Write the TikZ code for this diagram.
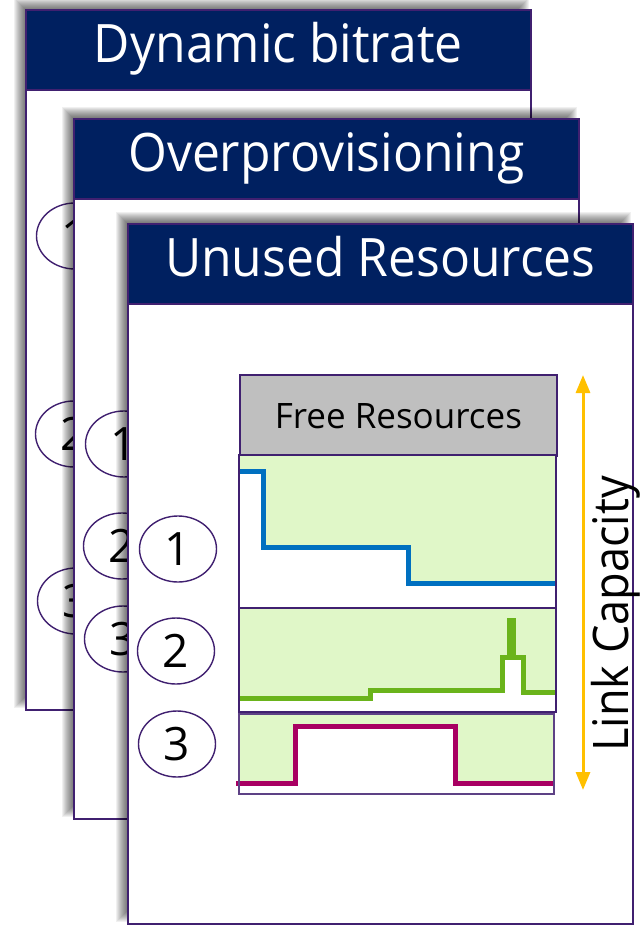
\documentclass[tikz,border=0pt]{standalone}
\usepackage{fontspec}
\setmainfont{Open Sans}
\newfontfamily\titlefont[FakeStretch=0.94]{Open Sans}
\newfontfamily\labelfont[FakeStretch=0.92]{Open Sans}
\usetikzlibrary{shapes.geometric,arrows.meta}

\definecolor{navy}{RGB}{0,32,96}
\definecolor{edge}{RGB}{64,32,112}
\definecolor{freegreen}{RGB}{224,247,200}
\definecolor{freegray}{RGB}{191,191,191}
\definecolor{lineblue}{RGB}{0,112,192}
\definecolor{linegreen}{RGB}{106,180,27}
\definecolor{linemag}{RGB}{168,0,98}
\definecolor{capyellow}{RGB}{255,192,0}

\tikzset{
  card/.style={draw=edge, line width=1.6pt, fill=white, anchor=north west,
    minimum width=505pt, minimum height=700pt, inner sep=0pt},
  cardhead/.style={draw=edge, line width=1.6pt, fill=navy, anchor=north west,
    minimum width=505pt, minimum height=80pt, inner sep=0pt, text=white,
    font=\titlefont\fontsize{53}{60}\selectfont, text height=40pt, text depth=14pt},
  numcircle/.style={ellipse, draw=edge, line width=1.4pt, fill=white,
    minimum width=77pt, minimum height=66pt, inner sep=0pt,
    font=\fontsize{46}{50}\selectfont, text height=33pt, text depth=0pt},
  panelbox/.style={draw=edge, line width=1.8pt},
  trace/.style={line width=5pt},
}

% soft shadow falling to the upper left of a card (card is 505 x 700)
\newcommand\cardshadow[2]{%
  \foreach \k in {1,...,11}{%
    \fill[black,opacity=0.06] ({#1-\k},{#2-\k}) rectangle ({#1+493+\k},{#2+688+\k});
  }%
}

\begin{document}
\begin{tikzpicture}[x=1pt,y=-1pt]
\useasboundingbox (0,0) rectangle (643,925);

% ---- back card: Dynamic bitrate
\cardshadow{25}{9}
\node[card] (cardA) at (25,9) {};
\node[cardhead] (headA) at (25,9) {Dynamic bitrate};
\node[numcircle] (a1) at (75,236) {1};
\node[numcircle] (a2) at (74,434) {2};
\node[numcircle] (a3) at (76,601) {3};

% ---- middle card: Overprovisioning
\cardshadow{73}{118}
\node[card] (cardB) at (73,118) {};
\node[cardhead] (headB) at (73,118) {Overprovisioning};
\node[numcircle] (b1) at (124,444) {1};
\node[numcircle] (b2) at (122,546) {2};
\node[numcircle] (b3) at (123,639) {3};

% ---- front card: Unused Resources
\cardshadow{127}{223}
\node[card] (cardC) at (127,223) {};
\node[cardhead] (headC) at (127,223) {Unused Resources};

\node[numcircle] (c1) at (178,549) {1};
\node[numcircle] (c2) at (176,651) {2};
\node[numcircle] (c3) at (177,744) {3};

% free resources header
\node[draw=edge, line width=1.8pt, fill=freegray, anchor=north west,
  minimum width=317pt, minimum height=81pt, inner sep=0pt,
  font=\fontsize{35}{40}\selectfont, text height=27pt, text depth=0pt]
  (free) at (239,374) {Free Resources};

% panel 1: blue trace
\fill[freegreen] (239,455) rectangle (556,608);
\fill[white] (239,471) -- (263,471) -- (263,547) -- (408,547) -- (408,583)
  -- (556,583) -- (556,608) -- (239,608) -- cycle;
\draw[trace, lineblue] (239,471) -- (263,471) -- (263,547) -- (408,547)
  -- (408,583) -- (556,583);
\draw[panelbox] (239,455) rectangle (556,608);

% panel 2: green trace
\fill[freegreen] (239,608) rectangle (556,712);
\fill[white] (239,698) -- (370,698) -- (370,690) -- (502,690) -- (502,657)
  -- (523,657) -- (523,692) -- (556,692) -- (556,712) -- (239,712) -- cycle;
\draw[trace, linegreen] (239,698) -- (370,698) -- (370,690) -- (502,690)
  -- (502,657) -- (523,657) -- (523,692) -- (556,692);
\fill[linegreen] (507,618) rectangle (516,657);
\draw[panelbox] (239,608) rectangle (556,712);

% panel 3: magenta trace
\fill[freegreen] (239,714) rectangle (554,794);
\fill[white] (239,783) -- (295,783) -- (295,726) -- (455,726) -- (455,783)
  -- (554,783) -- (554,794) -- (239,794) -- cycle;
\draw[trace, linemag] (236,783) -- (295,783) -- (295,726) -- (455,726)
  -- (455,783) -- (554,783);
\draw[draw=edge!85, line width=1.3pt] (239,714) rectangle (554,794);

% link capacity arrow
\coordinate (capTop) at (583,375);
\coordinate (capBot) at (583,790);
\draw[capyellow, line width=3pt,
  {Triangle[width=14pt,length=18pt]}-{Triangle[width=14pt,length=18pt]}]
  (capTop) -- (capBot);
\node[rotate=90, anchor=base, inner sep=0pt,
  font=\labelfont\fontsize{49}{54}\selectfont] (cap) at (628,614) {Link Capacity};
\end{tikzpicture}
\end{document}
